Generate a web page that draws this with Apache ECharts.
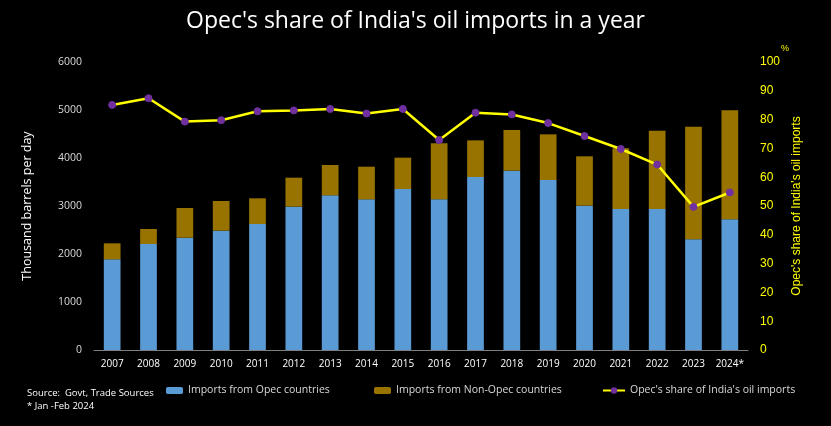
<!DOCTYPE html>
<html><head><meta charset="utf-8">
<script src="https://cdn.jsdelivr.net/npm/echarts@6/dist/echarts.min.js"></script>
<style>html,body{margin:0;padding:0;background:#000;}#c{width:831px;height:426px;}</style>
</head><body><div id="c"></div>
<script>
const years = ['2007','2008','2009','2010','2011','2012','2013','2014','2015','2016','2017','2018','2019','2020','2021','2022','2023','2024*'];
const opecImports = [1890,2208,2340,2486,2625,2986,3222,3139,3354,3139,3604,3736,3542,3007,2938,2938,2306,2722];
const totalImports = [2222,2521,2958,3104,3160,3590,3854,3819,4007,4305,4367,4583,4493,4035,4201,4569,4653,4993];
const nonOpecImports = totalImports.map((t,i)=>t-opecImports[i]);
const opecShare = [85.1,87.4,79.3,79.8,82.9,83.2,83.7,82.1,83.7,72.9,82.4,81.8,78.8,74.3,69.8,64.4,49.7,54.7];
const leftTicks = [0,1000,2000,3000,4000,5000,6000];
const rightTicks = [0,10,20,30,40,50,60,70,80,90,100];

const FONT = '"Open Sans", "Noto Sans", sans-serif';
const chart = echarts.init(document.getElementById('c'));
const legendText = {color:'#d9d9d9', fontSize:10.5, fontFamily:FONT};
chart.setOption({
  backgroundColor:'#000',
  animation:false,
  title:{text:"Opec's share of India's oil imports in a year", left:'center', top:5,
    textStyle:{color:'#fff', fontSize:23, fontWeight:'normal', fontFamily:FONT}},
  grid:{left:94, right:83, top:62, bottom:76},
  legend:[
    {data:['Imports from Opec countries'], left:166, top:385, padding:0, itemWidth:17, itemHeight:7, textStyle:legendText, selectedMode:false},
    {data:['Imports from Non-Opec countries'], left:374, top:385, padding:0, itemWidth:17, itemHeight:7, textStyle:legendText, selectedMode:false},
    {data:["Opec's share of India's oil imports"], left:602, top:385, padding:0, itemWidth:22, itemHeight:8, textStyle:legendText, selectedMode:false}
  ],
  xAxis:{type:'category', data:years,
    axisLine:{lineStyle:{color:'#7f7f7f'}}, axisTick:{show:false},
    axisLabel:{color:'#fff', fontSize:10, fontFamily:FONT, margin:9, interval:0}},
  yAxis:[
    {type:'value', min:leftTicks[0], max:leftTicks[leftTicks.length-1], interval:1000,
     name:'Thousand barrels per day', nameLocation:'middle', nameGap:60, nameRotate:90,
     nameTextStyle:{color:'#fff', fontSize:12.5, fontFamily:FONT},
     splitLine:{show:false}, axisLine:{show:false}, axisTick:{show:false},
     axisLabel:{color:'#d9d9d9', fontSize:10.5, fontFamily:FONT, margin:12, formatter:v=>String(v)}},
    {type:'value', min:rightTicks[0], max:rightTicks[rightTicks.length-1], interval:10, position:'right',
     name:"Opec's share of India's oil imports", nameLocation:'middle', nameGap:42, nameRotate:90,
     nameTextStyle:{color:'#ffff00', fontSize:12, fontFamily:'"Liberation Sans", Arial, sans-serif'},
     splitLine:{show:false}, axisLine:{show:false}, axisTick:{show:false},
     axisLabel:{color:'#ffff00', fontSize:12, fontFamily:'"Liberation Sans", Arial, sans-serif', margin:12}}
  ],
  series:[
    {name:'Imports from Opec countries', type:'bar', stack:'a', data:opecImports, barWidth:'46%',
     itemStyle:{color:'#5b9bd5'}},
    {name:'Imports from Non-Opec countries', type:'bar', stack:'a', data:nonOpecImports, barWidth:'46%',
     itemStyle:{color:'#997300'}},
    {name:"Opec's share of India's oil imports", type:'line', yAxisIndex:1, data:opecShare,
     symbol:'circle', symbolSize:7, lineStyle:{color:'#ffff00', width:2.5},
     itemStyle:{color:'#7030a0', borderColor:'#7030a0'}}
  ],
  graphic:[
    {type:'text', left:27, top:388, style:{text:'Source:  Govt, Trade Sources', fill:'#fff', fontSize:9.5, fontFamily:FONT}},
    {type:'text', left:27, top:401, style:{text:'* Jan -Feb 2024', fill:'#fff', fontSize:9.5, fontFamily:FONT}},
    {type:'text', left:781, top:44, style:{text:'%', fill:'#ffff00', fontSize:9, fontFamily:'"Liberation Sans", Arial, sans-serif'}}
  ]
});
</script></body></html>
